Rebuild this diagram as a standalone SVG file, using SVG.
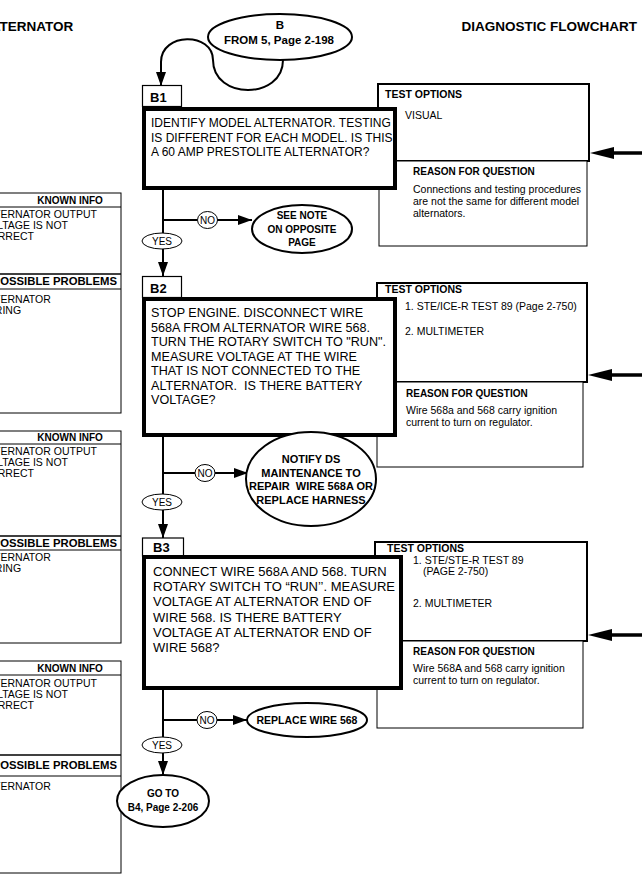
<svg xmlns="http://www.w3.org/2000/svg" width="642" height="875" viewBox="0 0 642 875">
<style>
text{font-family:"Liberation Sans",Arial,sans-serif;fill:#000;white-space:pre}
.b{font-weight:bold}
.q{font-size:12.6px}
.p{font-size:10.5px}
.h{font-size:10px;font-weight:bold}
.kh{font-size:10px;font-weight:bold}
.ph{font-size:11.3px;font-weight:bold}
.main{fill:#fff;stroke:#000;stroke-width:4}
.lab{fill:#fff;stroke:#000;stroke-width:1.2}
.opt{fill:#fff;stroke:#000;stroke-width:2}
.rsn{fill:#fff;stroke:#000;stroke-width:1}
.ell{fill:#fff;stroke:#000;stroke-width:2}
.sm{fill:#fff;stroke:#000;stroke-width:1}
.ln{fill:none;stroke:#000;stroke-width:2}
.big{fill:none;stroke:#000;stroke-width:3.5}
.pan{fill:#fff;stroke:#000;stroke-width:1}
.c{text-anchor:middle}
</style>
<defs>
<marker id="ah" markerUnits="userSpaceOnUse" markerWidth="16" markerHeight="12" refX="14" refY="5" orient="auto">
<path d="M0,0 L14,5 L0,10 z" fill="#000"/>
</marker>
</defs>
<rect width="642" height="875" fill="#fff"/>
<text x="-17.5" y="31" class="b" font-size="13.5">ALTERNATOR</text>
<text x="637" y="31" class="b" font-size="13.5" text-anchor="end">DIAGNOSTIC FLOWCHART</text>

<g id="panel1">
<rect class="pan" x="-5" y="193" width="126" height="220"/>
<line x1="-5" y1="207" x2="121" y2="207" stroke="#000"/>
<line x1="-5" y1="274" x2="121" y2="274" stroke="#000" stroke-width="1.5"/>
<line x1="-5" y1="289" x2="121" y2="289" stroke="#000"/>
<text x="70" y="204" class="kh c">KNOWN INFO</text>
<text x="-18" y="218" class="p">ALTERNATOR OUTPUT</text>
<text x="-18" y="229" class="p">VOLTAGE IS NOT</text>
<text x="-18" y="240" class="p">CORRECT</text>
<text x="117" y="285" class="ph" text-anchor="end">POSSIBLE PROBLEMS</text>
<text x="-18" y="303" class="p">ALTERNATOR</text>
<text x="-18" y="314" class="p">WIRING</text>
</g>
<g id="panel2">
<rect class="pan" x="-5" y="431" width="126" height="212"/>
<line x1="-5" y1="444" x2="121" y2="444" stroke="#000"/>
<line x1="-5" y1="536" x2="121" y2="536" stroke="#000" stroke-width="1.5"/>
<line x1="-5" y1="550" x2="121" y2="550" stroke="#000"/>
<text x="70" y="441" class="kh c">KNOWN INFO</text>
<text x="-18" y="455" class="p">ALTERNATOR OUTPUT</text>
<text x="-18" y="466" class="p">VOLTAGE IS NOT</text>
<text x="-18" y="477" class="p">CORRECT</text>
<text x="117" y="547" class="ph" text-anchor="end">POSSIBLE PROBLEMS</text>
<text x="-18" y="561" class="p">ALTERNATOR</text>
<text x="-18" y="572" class="p">WIRING</text>
</g>
<g id="panel3">
<rect class="pan" x="-5" y="661" width="126" height="212"/>
<line x1="-5" y1="675" x2="121" y2="675" stroke="#000"/>
<line x1="-5" y1="755" x2="121" y2="755" stroke="#000" stroke-width="1.5"/>
<line x1="-5" y1="776" x2="121" y2="776" stroke="#000"/>
<text x="70" y="672" class="kh c">KNOWN INFO</text>
<text x="-18" y="687" class="p">ALTERNATOR OUTPUT</text>
<text x="-18" y="698" class="p">VOLTAGE IS NOT</text>
<text x="-18" y="709" class="p">CORRECT</text>
<text x="117" y="769" class="ph" text-anchor="end">POSSIBLE PROBLEMS</text>
<text x="-18" y="790" class="p">ALTERNATOR</text>
</g>

<g id="connectors">
<path class="ln" d="M283,60 C283,100 213,100 213,60 C213,32 161,32 161,62 L161,86" marker-end="url(#ah)"/>
<line class="ln" x1="163" y1="190" x2="163" y2="233"/>
<line class="ln" x1="163" y1="220" x2="197" y2="220"/>
<line class="ln" x1="217" y1="220" x2="252" y2="220" marker-end="url(#ah)"/>
<line class="ln" x1="163" y1="249" x2="163" y2="276" marker-end="url(#ah)"/>
<line class="ln" x1="163" y1="437" x2="163" y2="494"/>
<line class="ln" x1="163" y1="473" x2="195" y2="473"/>
<line class="ln" x1="215" y1="473" x2="248" y2="473" marker-end="url(#ah)"/>
<line class="ln" x1="163" y1="510" x2="163" y2="538" marker-end="url(#ah)"/>
<line class="ln" x1="163" y1="690" x2="163" y2="737"/>
<line class="ln" x1="163" y1="720" x2="197" y2="720"/>
<line class="ln" x1="217" y1="720" x2="247" y2="720" marker-end="url(#ah)"/>
<line class="ln" x1="163" y1="753" x2="163" y2="775" marker-end="url(#ah)"/>
<line class="big" x1="642" y1="153" x2="608" y2="153"/>
<path d="M590,153 L614,147 L614,159 z" fill="#000"/>
<line class="big" x1="642" y1="375" x2="606" y2="375"/>
<path d="M588,375 L612,369 L612,381 z" fill="#000"/>
<line class="big" x1="642" y1="635" x2="606" y2="635"/>
<path d="M588,635 L612,629 L612,641 z" fill="#000"/>
</g>

<g id="start">
<ellipse class="ell" cx="280" cy="37" rx="72" ry="23"/>
<text x="280" y="29" class="b c" font-size="11.5">B</text>
<text x="279" y="44" class="b c" font-size="11.5">FROM 5, Page 2-198</text>
</g>

<g id="opt1">
<rect class="opt" x="378" y="84" width="211" height="77"/>
<rect class="rsn" x="379" y="161" width="208" height="85"/>
<text x="385" y="98" class="p b">TEST OPTIONS</text>
<text x="405" y="119" class="p">VISUAL</text>
<text x="413" y="175" class="h">REASON FOR QUESTION</text>
<text x="413" y="193" class="p">Connections and testing procedures</text>
<text x="413" y="205" class="p">are not the same for different model</text>
<text x="413" y="217" class="p">alternators.</text>
</g>
<g id="B1">
<rect class="lab" x="142.5" y="85.5" width="39" height="21"/>
<text x="150" y="102" class="b" font-size="13">B1</text>
<rect class="main" x="144" y="109" width="251" height="79"/>
<text x="151" y="127" font-size="12">IDENTIFY MODEL ALTERNATOR. TESTING</text>
<text x="151" y="141.5" font-size="12">IS DIFFERENT FOR EACH MODEL. IS THIS</text>
<text x="151" y="156" font-size="12">A 60 AMP PRESTOLITE ALTERNATOR?</text>
</g>
<g id="no1">
<ellipse class="sm" cx="207.5" cy="220" rx="10" ry="8.5"/>
<text x="207.5" y="223.5" class="c" font-size="10">NO</text>
</g>
<g id="yes1">
<ellipse class="sm" cx="162" cy="241" rx="20" ry="8"/>
<text x="162" y="244.5" class="c" font-size="10">YES</text>
</g>
<g id="seenote">
<ellipse class="ell" cx="302" cy="229" rx="50" ry="24"/>
<text x="302" y="219" class="h c">SEE NOTE</text>
<text x="302" y="233" class="h c">ON OPPOSITE</text>
<text x="302" y="246" class="h c">PAGE</text>
</g>

<g id="opt2">
<rect class="opt" x="377" y="283" width="210" height="99"/>
<rect class="rsn" x="377" y="382" width="206" height="85"/>
<text x="385" y="293" class="p b">TEST OPTIONS</text>
<text x="405" y="310" class="p">1. STE/ICE-R TEST 89 (Page 2-750)</text>
<text x="405" y="335" class="p">2. MULTIMETER</text>
<text x="406" y="397" class="h">REASON FOR QUESTION</text>
<text x="406" y="414" class="p">Wire 568a and 568 carry ignition</text>
<text x="406" y="426" class="p">current to turn on regulator.</text>
</g>
<g id="B2">
<rect class="lab" x="142.5" y="276.5" width="39" height="21"/>
<text x="150" y="293" class="b" font-size="13">B2</text>
<rect class="main" x="144" y="299" width="251" height="136"/>
<text x="151" y="317" class="q">STOP ENGINE. DISCONNECT WIRE</text>
<text x="151" y="331.5" class="q">568A FROM ALTERNATOR WIRE 568.</text>
<text x="151" y="346" class="q">TURN THE ROTARY SWITCH TO "RUN".</text>
<text x="151" y="360.5" class="q">MEASURE VOLTAGE AT THE WIRE</text>
<text x="151" y="375" class="q">THAT IS NOT CONNECTED TO THE</text>
<text x="151" y="389.5" class="q">ALTERNATOR.  IS THERE BATTERY</text>
<text x="151" y="404" class="q">VOLTAGE?</text>
</g>
<g id="no2">
<ellipse class="sm" cx="205" cy="473" rx="10" ry="8.5"/>
<text x="205" y="476.5" class="c" font-size="10">NO</text>
</g>
<g id="yes2">
<ellipse class="sm" cx="162" cy="502" rx="20" ry="8"/>
<text x="162" y="505.5" class="c" font-size="10">YES</text>
</g>
<g id="notify">
<ellipse class="ell" cx="311" cy="479" rx="65" ry="47"/>
<text x="311" y="463" class="b c" font-size="11">NOTIFY DS</text>
<text x="311" y="477" class="b c" font-size="11">MAINTENANCE TO</text>
<text x="311" y="490" class="b c" font-size="11">REPAIR  WIRE 568A OR</text>
<text x="311" y="504" class="b c" font-size="11">REPLACE HARNESS</text>
</g>

<g id="opt3">
<rect class="opt" x="375" y="542" width="212" height="99"/>
<rect class="rsn" x="377" y="641" width="206" height="87"/>
<text x="387" y="552" class="p b">TEST OPTIONS</text>
<text x="413" y="564" class="p">1. STE/STE-R TEST 89</text>
<text x="423" y="575" class="p">(PAGE 2-750)</text>
<text x="413" y="607" class="p">2. MULTIMETER</text>
<text x="413" y="655" class="h">REASON FOR QUESTION</text>
<text x="413" y="672" class="p">Wire 568A and 568 carry ignition</text>
<text x="413" y="684" class="p">current to turn on regulator.</text>
</g>
<g id="B3">
<rect class="lab" x="142.5" y="538" width="41" height="18"/>
<text x="153" y="552" class="b" font-size="13">B3</text>
<rect class="main" x="144" y="557" width="257" height="131"/>
<text x="153" y="576" font-size="13">CONNECT WIRE 568A AND 568. TURN</text>
<text x="153" y="591" font-size="13">ROTARY SWITCH TO “RUN’’. MEASURE</text>
<text x="153" y="606" font-size="13">VOLTAGE AT ALTERNATOR END OF</text>
<text x="153" y="622" font-size="13">WIRE 568. IS THERE BATTERY</text>
<text x="153" y="637" font-size="13">VOLTAGE AT ALTERNATOR END OF</text>
<text x="153" y="652" font-size="13">WIRE 568?</text>
</g>
<g id="no3">
<ellipse class="sm" cx="207" cy="720" rx="10" ry="8.5"/>
<text x="207" y="723.5" class="c" font-size="10">NO</text>
</g>
<g id="yes3">
<ellipse class="sm" cx="162" cy="745" rx="20" ry="8"/>
<text x="162" y="748.5" class="c" font-size="10">YES</text>
</g>
<g id="replace">
<ellipse class="ell" cx="307" cy="720" rx="60" ry="17"/>
<text x="307" y="724" class="b c" font-size="10.5">REPLACE WIRE 568</text>
</g>
<g id="goto">
<ellipse class="ell" cx="163" cy="801" rx="46" ry="26"/>
<text x="163" y="797" class="h c">GO TO</text>
<text x="163" y="811" class="h c">B4, Page 2-206</text>
</g>
</svg>
